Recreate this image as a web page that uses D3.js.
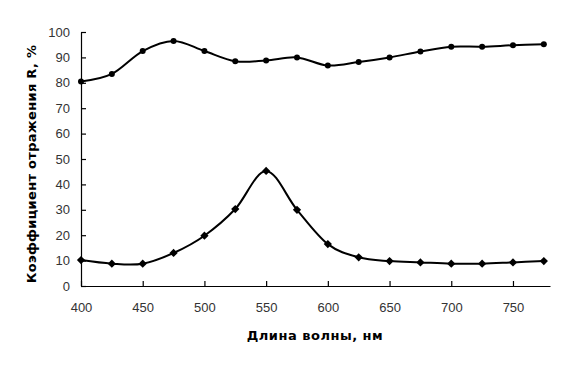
<!DOCTYPE html>
<html>
<head>
<meta charset="utf-8">
<script src="https://cdn.jsdelivr.net/npm/d3@7"></script>
<style>
  body { margin: 0; background: #fff; }
  svg { display: block; }
</style>
</head>
<body>
<div id="chart"></div>
<script>
// wavelengths, nm
const wavelengths = [400, 425, 450, 475, 500, 525, 550, 575, 600, 625, 650, 675, 700, 725, 750, 775];
// upper curve (dots)
const seriesTop = [80.5, 83.5, 92.5, 96.5, 92.5, 88.5, 88.8, 90, 86.8, 88.2, 90, 92.3, 94.2, 94.2, 94.8, 95.2];
// lower curve (diamonds)
const seriesBottom = [10.2, 8.8, 8.8, 13, 19.8, 30.3, 45.3, 30, 16.5, 11.3, 9.8, 9.3, 8.8, 8.8, 9.3, 9.8];
const xTicks = [400, 450, 500, 550, 600, 650, 700, 750];
const yTicks = [0, 10, 20, 30, 40, 50, 60, 70, 80, 90, 100];

const width = 580, height = 369;
const margin = { left: 81, right: 30, top: 32, bottom: 83 };

const svg = d3.select("#chart").append("svg")
    .attr("width", width)
    .attr("height", height);

const x = d3.scaleLinear().domain([400, 780]).range([margin.left, width - margin.right]);
const y = d3.scaleLinear().domain([0, 100]).range([height - margin.bottom, margin.top]);

const tickFont = "'Liberation Sans', Arial, sans-serif";

// x axis
const xAxis = svg.append("g")
    .attr("transform", `translate(0,${y(0)})`)
    .call(d3.axisBottom(x).tickValues(xTicks).tickSize(-5).tickSizeOuter(0).tickPadding(17));
xAxis.attr("font-family", tickFont).attr("font-size", 13);
xAxis.selectAll("text").attr("fill", "#333");

// y axis
const yAxis = svg.append("g")
    .attr("transform", `translate(${x(400)},0)`)
    .call(d3.axisLeft(y).tickValues(yTicks).tickSize(-5).tickSizeOuter(0).tickPadding(11));
yAxis.attr("font-family", tickFont).attr("font-size", 13);
yAxis.selectAll("text").attr("fill", "#333");

svg.selectAll(".domain, .tick line").attr("stroke", "#000").attr("stroke-width", 1.2);

const line = d3.line()
    .x((d, i) => x(wavelengths[i]))
    .y(d => y(d))
    .curve(d3.curveCatmullRom.alpha(0));

svg.append("path").datum(seriesTop)
    .attr("fill", "none").attr("stroke", "#000").attr("stroke-width", 2)
    .attr("d", line);
svg.append("path").datum(seriesBottom)
    .attr("fill", "none").attr("stroke", "#000").attr("stroke-width", 2)
    .attr("d", line);

svg.append("g").selectAll("circle")
    .data(seriesTop)
    .enter().append("circle")
    .attr("cx", (d, i) => x(wavelengths[i]))
    .attr("cy", d => y(d))
    .attr("r", 3)
    .attr("fill", "#000");

// diamonds: squares turned 45 degrees
svg.append("g").selectAll("path")
    .data(seriesBottom)
    .enter().append("path")
    .attr("d", d3.symbol().type(d3.symbolSquare).size(34))
    .attr("transform", (d, i) => `translate(${x(wavelengths[i])},${y(d)}) rotate(45)`)
    .attr("fill", "#000");

// axis titles
svg.append("text")
    .attr("x", 315).attr("y", 340)
    .attr("text-anchor", "middle")
    .style("font-family", "'DejaVu Sans', sans-serif")
    .style("font-size", "13px")
    .style("font-weight", "bold")
    .style("letter-spacing", "0.5px")
    .text("Длина волны, нм");

svg.append("text")
    .attr("transform", `translate(36,${(y(0) + y(100)) / 2 + 5}) rotate(-90)`)
    .attr("text-anchor", "middle")
    .style("font-family", "'DejaVu Sans', sans-serif")
    .style("font-size", "13px")
    .style("font-weight", "bold")
    .style("letter-spacing", "0.3px")
    .text("Коэффициент отражения R, %");
</script>
</body>
</html>
